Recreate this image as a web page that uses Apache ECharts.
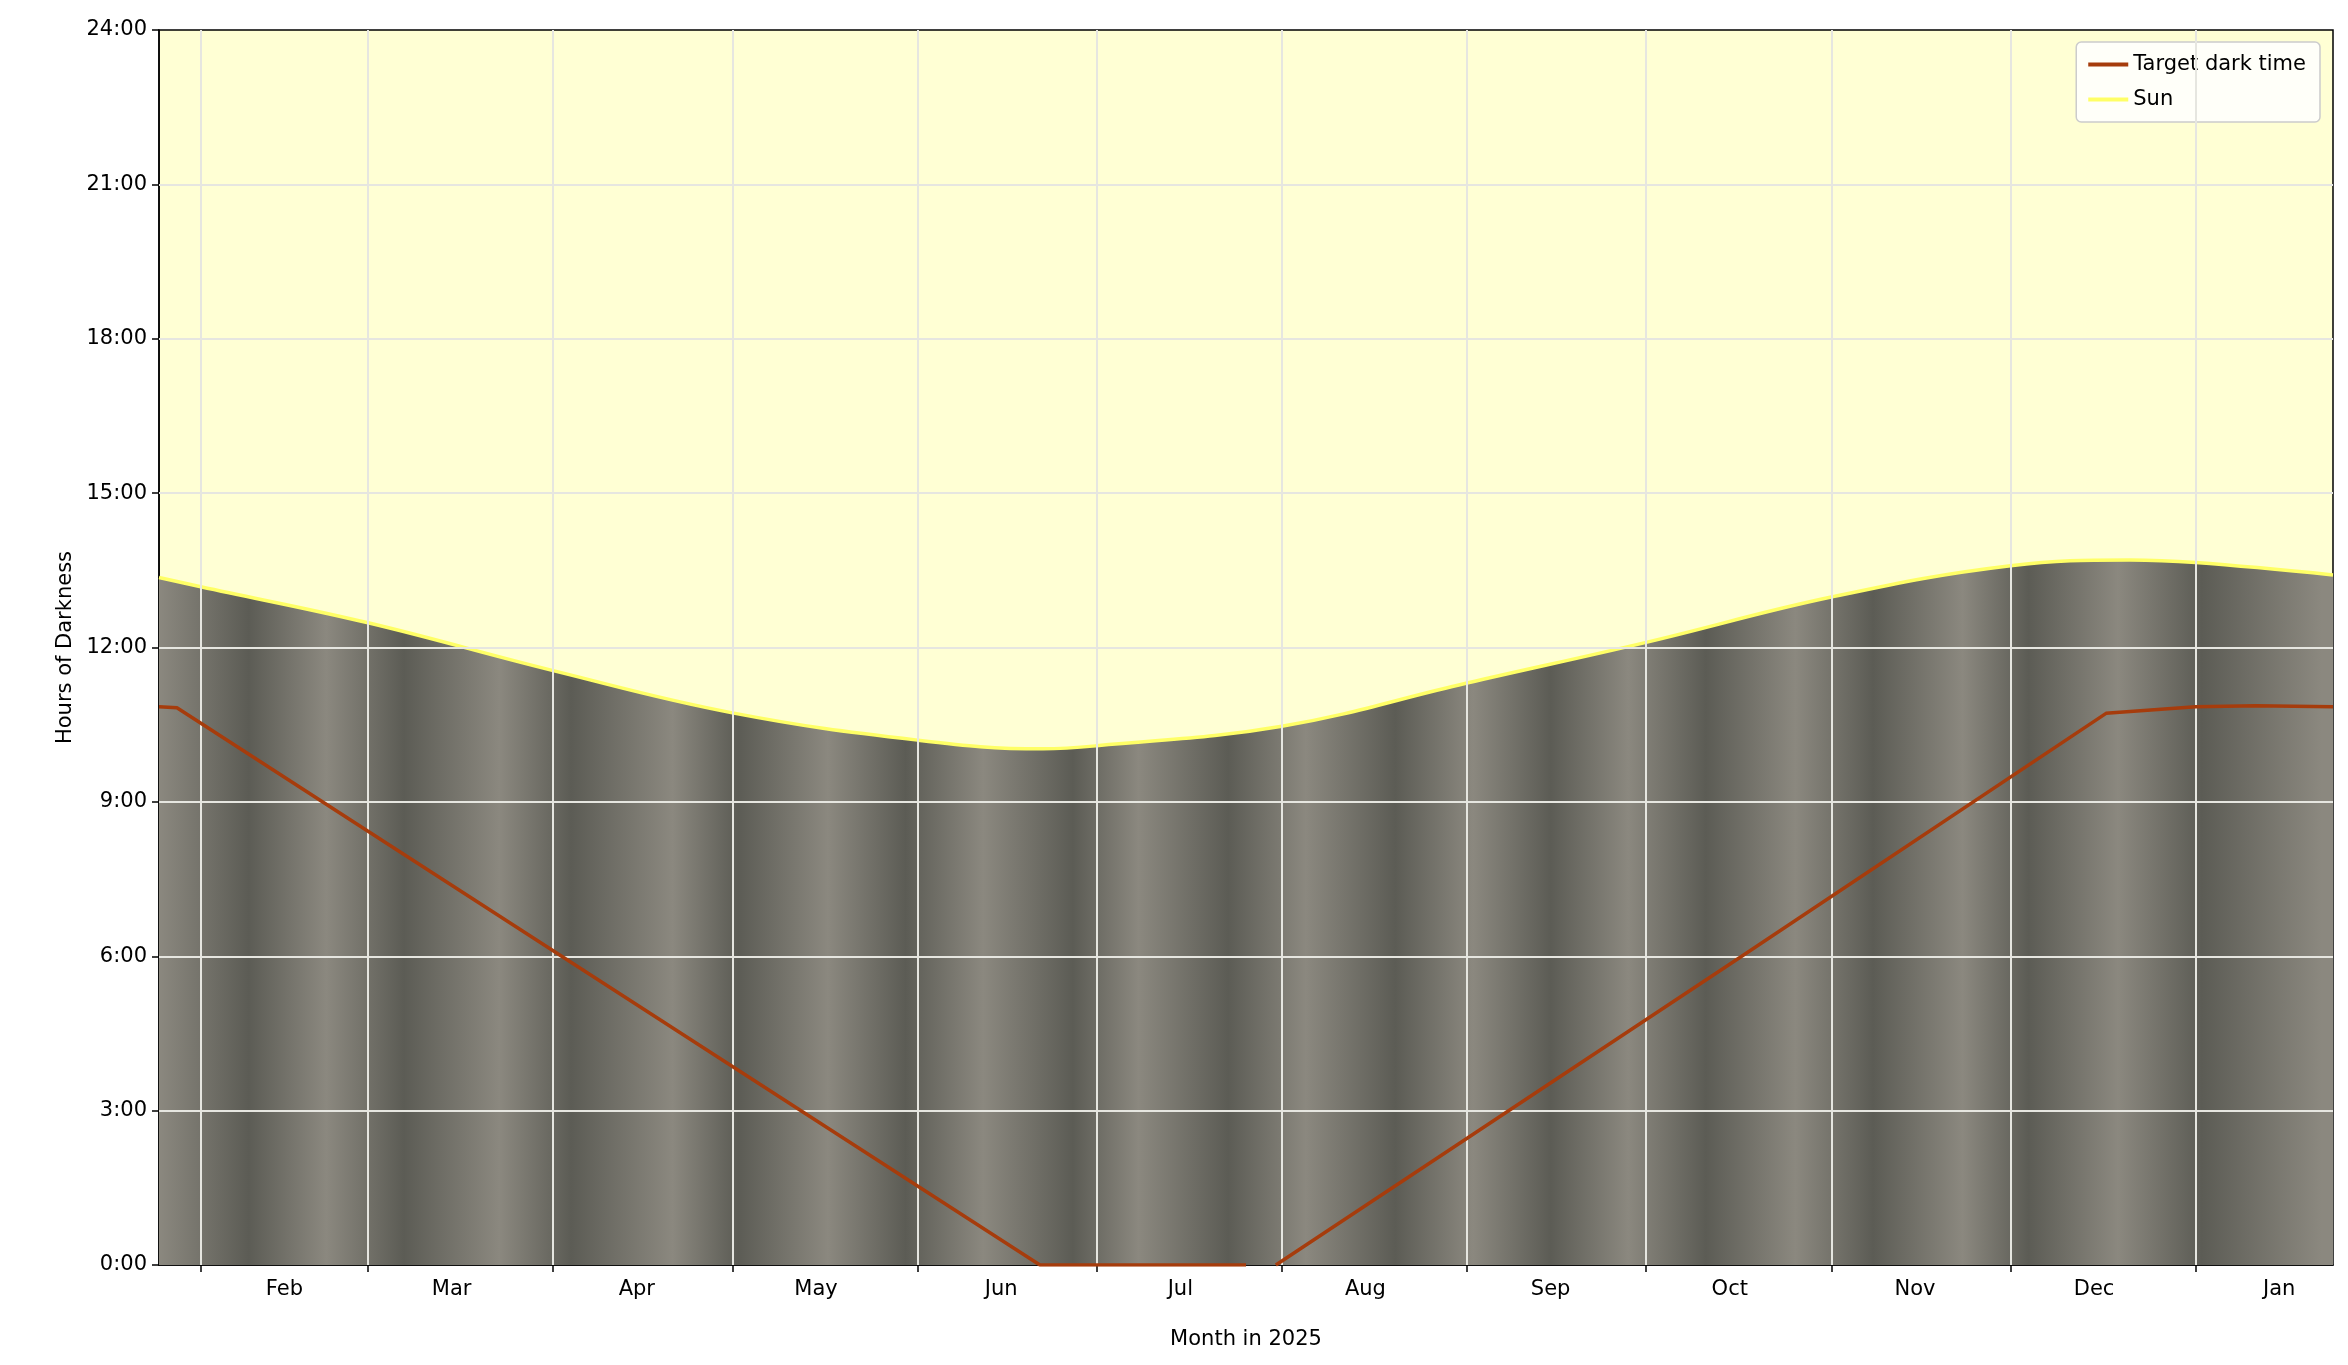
<!DOCTYPE html>
<html><head><meta charset="utf-8">
<script src="https://cdn.jsdelivr.net/npm/echarts@6/dist/echarts.min.js"></script>
<style>html,body{margin:0;padding:0;background:#fff}#c{width:2348px;height:1365px}</style>
</head><body><div id="c"></div>
<script>
// x values: day of year 2025 (Jan 1 = 0)
const xMin = 24, xMax = 388;
const monthStarts = [31,59,90,120,151,181,212,243,273,304,334,365];
const monthMids = [45,73,104,134,165,195,226,257,287,318,348,379];
const monthNames = ['Feb','Mar','Apr','May','Jun','Jul','Aug','Sep','Oct','Nov','Dec','Jan'];
const yTicks = [0,3,6,9,12,15,18,21,24];
// Sun: hours of darkness
const sunDays =  [24,31,59,90,120,151,172,181,212,243,273,304,334,354,365,388];
const sunHours = [13.36,13.18,12.48,11.55,10.73,10.2,10.03,10.09,10.47,11.31,12.1,12.98,13.59,13.7,13.65,13.41];
// Target dark time
const targetDays =  [24,27,59,171.5,206,208,211,289,350,365,375,388];
const targetHours = [10.85,10.83,8.43,0,0,null,0,6.0,10.72,10.85,10.87,10.85];
// moonlight shading: days of darkest and lightest bands
const darkBandDays  = [39,65,93,121,149,177,203,231,257,283,311,337,366];
const lightBandDays = [24,52,81,110,136,162,188,216,244,270,298,326,352,386];

const chart = echarts.init(document.getElementById('c'));
const stops = [];
darkBandDays.forEach(d => stops.push({offset:(d-xMin)/(xMax-xMin), color:'#5c5c55'}));
lightBandDays.forEach(d => stops.push({offset:(d-xMin)/(xMax-xMin), color:'#8b887f'}));
stops.sort((a,b)=>a.offset-b.offset);
stops.forEach(s=>s.offset=Math.min(1,Math.max(0,s.offset)));
const grad = new echarts.graphic.LinearGradient(0,0,1,0,stops);
const gridCol = '#e6e6e0';
const font = 'DejaVu Sans';
chart.setOption({
  animation:false,
  textStyle:{fontFamily:font},
  grid:{left:159,right:15,top:30,bottom:100,show:true,backgroundColor:'#ffffd4',borderColor:'#000',borderWidth:1.5},
  legend:{right:28,top:42,orient:'vertical',itemWidth:40,itemHeight:4,itemGap:14,
    backgroundColor:'rgba(255,255,255,0.85)',borderColor:'#cccccc',borderWidth:1.5,borderRadius:5,padding:[12,14,12,12],
    textStyle:{fontSize:21,color:'#000',fontFamily:font},
    data:[{name:'Target dark time',icon:'rect'},{name:'Sun',icon:'rect'}]},
  xAxis:{type:'value',min:xMin,max:xMax,name:'Month in 2025',nameLocation:'middle',nameGap:64,
    nameTextStyle:{fontSize:21,color:'#000'},
    axisLine:{show:true,lineStyle:{color:'#000',width:1.5}},
    axisTick:{show:true,customValues:monthStarts,length:7,lineStyle:{color:'#000',width:1.5}},
    axisLabel:{customValues:monthMids,fontSize:21,color:'#000',margin:14,
      formatter:v=>monthNames[monthMids.indexOf(Math.round(v))]||''},
    splitLine:{show:false}},
  yAxis:{type:'value',min:0,max:24,interval:3,name:'Hours of Darkness',nameLocation:'middle',nameGap:82,
    nameTextStyle:{fontSize:21,color:'#000'},
    axisLine:{show:true,lineStyle:{color:'#000',width:1.5}},
    axisTick:{show:true,length:7,lineStyle:{color:'#000',width:1.5}},
    axisLabel:{fontSize:21,color:'#000',margin:12,formatter:v=>v+':00'},
    splitLine:{show:false}},
  series:[
    {name:'Sun',type:'line',smooth:0.4,symbol:'none',z:3,
      data:sunDays.map((d,i)=>[d,sunHours[i]]),
      lineStyle:{color:'#ffff66',width:3.5},itemStyle:{color:'#ffff66'},
      areaStyle:{color:grad,opacity:1,origin:'start'}},
    {name:'grid',type:'line',data:[],z:4,silent:true,
      markLine:{silent:true,symbol:'none',label:{show:false},
        lineStyle:{color:gridCol,width:2,type:'solid'},
        data:[...monthStarts.map(d=>({xAxis:d})),...yTicks.slice(1,-1).map(v=>({yAxis:v}))]}},
    {name:'Target dark time',type:'line',symbol:'none',z:5,connectNulls:false,
      data:targetDays.map((d,i)=>[d,targetHours[i]]),
      lineStyle:{color:'#a63c0c',width:3.5},itemStyle:{color:'#a63c0c'}}
  ]
});
</script></body></html>
